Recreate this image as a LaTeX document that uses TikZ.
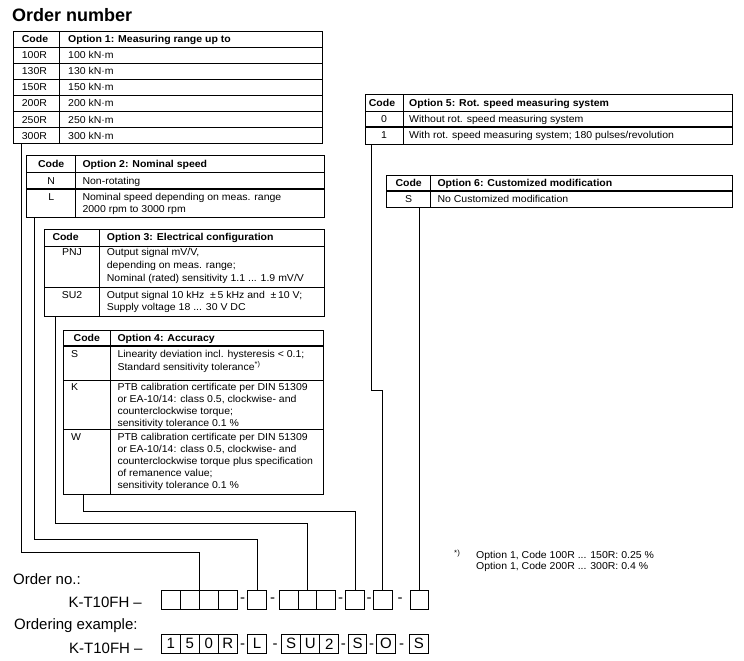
\documentclass[tikz,border=0pt]{standalone}
\usepackage{fontspec}
\setmainfont{Liberation Sans}
\newfontfamily\tabfont[FakeStretch=1.05]{Liberation Sans}
\tikzset{
  ln/.style={line width=0.8pt},
  tk/.style={line width=1.6pt},
  tbl/.style={draw, line width=0.8pt, inner sep=0pt, outer sep=0pt, anchor=north west},
  txt/.style={anchor=base west, inner sep=0pt, font=\tabfont\fontsize{10}{11}\selectfont},
  txtb/.style={anchor=base west, inner sep=0pt, font=\tabfont\bfseries\fontsize{10}{11}\selectfont},
  code/.style={txt, anchor=base},
  codeb/.style={txtb, anchor=base},
  big/.style={anchor=base west, inner sep=0pt, font=\fontsize{15}{18}\selectfont},
  dsh/.style={anchor=base, inner sep=0pt, font=\fontsize{15}{18}\selectfont},
  obox/.style={draw, line width=0.8pt, inner sep=0pt, outer sep=0pt, anchor=north west,
    minimum height=19.3pt, font=\fontsize{15}{18}\selectfont},
  ebox/.style={obox, minimum height=19pt},
  ttl/.style={anchor=base west, inner sep=0pt, font=\bfseries\fontsize{18}{21}\selectfont},
  fn/.style={anchor=base west, inner sep=0pt, font=\tabfont\fontsize{10}{11}\selectfont},
}
\begin{document}
\begin{tikzpicture}[x=1pt,y=-1pt]
\useasboundingbox (0,0) rectangle (744,661);
\node[ttl] (title) at (12,21.7) {Order number};

% ---------- Table 1
\node[tbl, minimum width=309.4pt, minimum height=112.5pt] (t1) at (13.3,31) {};
\draw[ln] (59.3,31) -- (59.3,143.5);
\foreach \y in {47,95.5,111.5,127.5} \draw[ln] (13.3,\y) -- (322.7,\y);
\foreach \y in {63.5,79.5} \draw[tk] (13.3,\y) -- (322.7,\y);
\node[txtb] (t1hc) at (21.7,42.5) {Code};
\node[txtb] (t1ho) at (68,42.5) {Option 1: Measuring range up to};
\foreach \v [count=\i] in {100,130,150,200,250,300} {
  \node[txt] (t1c\i) at (21.7,{42.5+16.1*\i}) {\v R};
  \node[txt] (t1d\i) at (68,{42.5+16.1*\i}) {\v\ kN·m};
}

% ---------- Table 2
\node[tbl, minimum width=297.3pt, minimum height=61.3pt] (t2) at (26.7,155.7) {};
\draw[ln] (75.7,155.7) -- (75.7,217);
\draw[ln] (26.7,172.5) -- (324,172.5);
\draw[tk] (26.7,189) -- (324,189);
\node[codeb] (t2hc) at (51.2,167.5) {Code};
\node[txtb] (t2ho) at (82.3,167.5) {Option 2: Nominal speed};
\node[code] (t2c1) at (51.2,184) {N};
\node[txt] (t2d1) at (82.3,184) {Non-rotating};
\node[code] (t2c2) at (51.2,200) {L};
\node[txt] (t2d2) at (82.3,200) {Nominal speed depending on meas. range};
\node[txt] (t2d3) at (82.3,212.5) {2000 rpm to 3000 rpm};

% ---------- Table 3
\node[tbl, minimum width=279.7pt, minimum height=86.7pt] (t3) at (44.3,229.3) {};
\draw[ln] (99.3,229.3) -- (99.3,316);
\draw[ln] (44.3,246) -- (324,246);
\draw[ln] (44.3,287.7) -- (324,287.7);
\node[txtb] (t3hc) at (52.3,240.5) {Code};
\node[txtb] (t3ho) at (106.7,240.5) {Option 3: Electrical configuration};
\node[code] (t3c1) at (72,255.7) {PNJ};
\node[txt] (t3d1) at (106.7,255.7) {Output signal mV/V,};
\node[txt] (t3d2) at (106.7,268.3) {depending on meas. range;};
\node[txt] (t3d3) at (106.7,281) {Nominal (rated) sensitivity 1.1 ... 1.9 mV/V};
\node[code] (t3c2) at (72,298.3) {SU2};
\node[txt] (t3d4) at (106.7,298.3) {Output signal 10 kHz~ ±\,5 kHz and~ ±\,10 V;};
\node[txt] (t3d5) at (106.7,310.5) {Supply voltage 18 ... 30 V DC};

% ---------- Table 4
\node[tbl, minimum width=260pt, minimum height=164pt] (t4) at (63.3,330) {};
\draw[ln] (110.3,330) -- (110.3,494);
\draw[tk] (63.3,345.7) -- (323.3,345.7);
\draw[ln] (63.3,380) -- (323.3,380);
\draw[ln] (63.3,429.5) -- (323.3,429.5);
\node[codeb] (t4hc) at (86.8,341) {Code};
\node[txtb] (t4ho) at (117.3,341) {Option 4: Accuracy};
\node[txt] (t4c1) at (71,357.5) {S};
\node[txt] (t4d1) at (117.3,357.5) {Linearity deviation incl. hysteresis < 0.1;};
\node[txt] (t4d2) at (117.3,370) {Standard sensitivity tolerance\textsuperscript{*)}};
\node[txt] (t4c2) at (71,390.5) {K};
\node[txt] (t4d3) at (117.3,390.5) {PTB calibration certificate per DIN 51309};
\node[txt] (t4d4) at (117.3,402.5) {or EA-10/14: class 0.5, clockwise- and};
\node[txt] (t4d5) at (117.3,414.5) {counterclockwise torque;};
\node[txt] (t4d6) at (117.3,426) {sensitivity tolerance 0.1 \%};
\node[txt] (t4c3) at (71,440) {W};
\node[txt] (t4d7) at (117.3,440) {PTB calibration certificate per DIN 51309};
\node[txt] (t4d8) at (117.3,452) {or EA-10/14: class 0.5, clockwise- and};
\node[txt] (t4d9) at (117.3,464) {counterclockwise torque plus specification};
\node[txt] (t4d10) at (117.3,476) {of remanence value;};
\node[txt] (t4d11) at (117.3,488) {sensitivity tolerance 0.1 \%};

% ---------- Table 5
\node[tbl, minimum width=367.7pt, minimum height=49.7pt] (t5) at (365,94.3) {};
\draw[ln] (403.3,94.3) -- (403.3,144);
\draw[ln] (365,111) -- (732.7,111);
\draw[tk] (365,126.7) -- (732.7,126.7);
\node[codeb] (t5hc) at (382,106.2) {Code};
\node[txtb] (t5ho) at (409,106.2) {Option 5: Rot. speed measuring system};
\node[code] (t5c1) at (384,122.3) {0};
\node[txt] (t5d1) at (409,122.3) {Without rot. speed measuring system};
\node[code] (t5c2) at (384,138.9) {1};
\node[txt] (t5d2) at (409,138.9) {With rot. speed measuring system; 180 pulses/revolution};

% ---------- Table 6
\node[tbl, minimum width=346pt, minimum height=31.6pt] (t6) at (386.7,175.7) {};
\draw[ln] (430.7,175.7) -- (430.7,207.3);
\draw[tk] (386.7,191) -- (732.7,191);
\node[codeb] (t6hc) at (408.7,186.8) {Code};
\node[txtb] (t6ho) at (437.3,186.8) {Option 6: Customized modification};
\node[code] (t6c1) at (408.7,202.7) {S};
\node[txt] (t6d1) at (437.3,202.7) {No Customized modification};

% ---------- Footnote
\node[anchor=base west, inner sep=0pt, font=\tabfont\fontsize{7.5}{8}\selectfont] (fnm) at (454,555) {*)};
\node[fn] (fn1) at (476,558.5) {Option 1, Code 100R ... 150R: 0.25 \%};
\node[fn] (fn2) at (476,569) {Option 1, Code 200R ... 300R: 0.4 \%};

% ---------- Order number row
\node[big] (ono) at (13,584) {Order no.:};
\node[big] (kt1) at (68.3,607.3) {K-T10FH –};
\node[obox, minimum width=18.9pt] (a1) at (161.3,590) {};
\node[obox, minimum width=18.9pt] (a2) at (180.2,590) {};
\node[obox, minimum width=18.9pt] (a3) at (199.1,590) {};
\node[obox, minimum width=18.9pt] (a4) at (218.0,590) {};
\node[dsh] (da1) at (242.7,602.5) {-};
\node[obox, minimum width=19.4pt] (b1) at (247.3,590) {};
\node[dsh] (da2) at (272.7,602.5) {-};
\node[obox, minimum width=18.9pt] (c1) at (279.0,590) {};
\node[obox, minimum width=18.9pt] (c2) at (297.9,590) {};
\node[obox, minimum width=18.9pt] (c3) at (316.8,590) {};
\node[dsh] (da3) at (340.7,602.5) {-};
\node[obox, minimum width=18.6pt] (e4) at (345.7,590) {};
\node[dsh] (da4) at (369,602.5) {-};
\node[obox, minimum width=19pt] (e5) at (373.3,590) {};
\node[dsh] (da5) at (400,602.5) {-};
\node[obox, minimum width=18.7pt] (e6) at (410,590) {};

% ---------- Ordering example row
\node[big] (oex) at (14,629.5) {Ordering example:};
\node[big] (kt2) at (69,653) {K-T10FH –};
\node[ebox, minimum width=19pt] (x1) at (161.3,634.3) {1};
\node[ebox, minimum width=19pt] (x2) at (180.3,634.3) {5};
\node[ebox, minimum width=19pt] (x3) at (199.3,634.3) {0};
\node[ebox, minimum width=19pt] (x4) at (218.3,634.3) {R};
\node[dsh] (db1) at (242.7,648.3) {-};
\node[ebox, minimum width=19.4pt] (y1) at (247.3,634.3) {L};
\node[dsh] (db2) at (275,648.3) {-};
\node[ebox, minimum width=19pt] (z1) at (281.7,634.3) {S};
\node[ebox, minimum width=19pt] (z2) at (300.7,634.3) {U};
\node[ebox, minimum width=19pt] (z3) at (319.7,634.3) {2};
\node[dsh] (db3) at (343.3,648.3) {-};
\node[ebox, minimum width=18.4pt] (w4) at (348.3,634.3) {S};
\node[dsh] (db4) at (371.7,648.3) {-};
\node[ebox, minimum width=18.3pt] (w5) at (376.7,634.3) {O};
\node[dsh] (db5) at (401.7,648.3) {-};
\node[ebox, minimum width=19pt] (w6) at (409.3,634.3) {S};

% ---------- Connectors
\coordinate (s1) at (21.7,143.5);
\coordinate (s2) at (34.3,217);
\coordinate (s3) at (55,316);
\coordinate (s4) at (83.3,494);
\coordinate (s5) at (371.7,144);
\draw[ln] (s1) |- ([yshift=37.7pt]a2.north east) -- (a2.north east);
\draw[ln] (s2) |- ([yshift=50.3pt]b1.north) -- (b1.north);
\draw[ln] (s3) |- ([yshift=66.3pt]c2.north) -- (c2.north);
\draw[ln] (s4) |- ([yshift=78.7pt]e4.north) -- (e4.north);
\draw[ln] (s5) |- ([yshift=200pt]e5.north) -- (e5.north);
\draw[ln] (e6.north |- t6.south) -- (e6.north);
\end{tikzpicture}
\end{document}
